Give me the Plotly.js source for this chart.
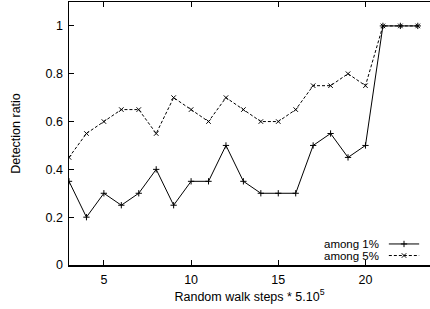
<!DOCTYPE html>
<html><head><meta charset="utf-8">
<script src="https://cdn.plot.ly/plotly-3.0.1.min.js"></script>
<style>html,body{margin:0;padding:0;background:#fff}#chart{width:430px;height:309px}</style>
</head><body><div id="chart"></div>
<script>
const steps = [3,4,5,6,7,8,9,10,11,12,13,14,15,16,17,18,19,20,21,22,23];
const among1 = [0.35,0.2,0.3,0.25,0.3,0.4,0.25,0.35,0.35,0.5,0.35,0.3,0.3,0.3,0.5,0.55,0.45,0.5,1,1,1];
const among5 = [0.45,0.55,0.6,0.65,0.65,0.55,0.7,0.65,0.6,0.7,0.65,0.6,0.6,0.65,0.75,0.75,0.8,0.75,1,1,1];
const seriesNames = ["among 1%","among 5%"];
const xTicks = [5,10,15,20];
const yTicks = [0,0.2,0.4,0.6,0.8,1];
const yTickText = ["0","0.2","0.4","0.6","0.8","1"];

const font = {family:"Liberation Sans, Arial, sans-serif", size:12.5, color:"#000"};
const legFont = {family:"Liberation Sans, Arial, sans-serif", size:11.5, color:"#000"};
const dash = "3px,2px";
const traces = [
  {x:steps, y:among1, mode:"lines+markers", name:seriesNames[0],
   line:{color:"#000", width:1, dash:"solid"},
   marker:{symbol:"cross-thin", size:4.5, color:"#000", line:{color:"#000", width:1}}},
  {x:steps, y:among5, mode:"lines+markers", name:seriesNames[1],
   line:{color:"#000", width:1, dash:dash},
   marker:{symbol:"x-thin", size:4.5, color:"#000", line:{color:"#000", width:1}}},
  // legend samples (paper-like hidden overlay axes)
  {x:[0.886,0.970], y:[0.080,0.080], xaxis:"x2", yaxis:"y2", mode:"lines", line:{color:"#000", width:1}, hoverinfo:"skip"},
  {x:[0.928], y:[0.080], xaxis:"x2", yaxis:"y2", mode:"markers", marker:{symbol:"cross-thin", size:4.5, line:{color:"#000", width:1}}, hoverinfo:"skip"},
  {x:[0.886,0.970], y:[0.036,0.036], xaxis:"x2", yaxis:"y2", mode:"lines", line:{color:"#000", width:1, dash:dash}, hoverinfo:"skip"},
  {x:[0.928], y:[0.036], xaxis:"x2", yaxis:"y2", mode:"markers", marker:{symbol:"x-thin", size:4.5, line:{color:"#000", width:1}}, hoverinfo:"skip"}
];
const layout = {
  width:430, height:309, showlegend:false,
  margin:{l:69, r:0, t:2, b:44},
  paper_bgcolor:"#fff", plot_bgcolor:"#fff", font:font,
  xaxis:{range:[3,23.7], tickvals:xTicks, ticks:"inside", ticklen:5, tickwidth:1, tickcolor:"#000",
    showline:true, linecolor:"#000", linewidth:1.5, mirror:"ticks", showgrid:false, zeroline:false,
    ticklabelstandoff:2,
    tickfont:font, title:{text:"Random walk steps * 5.10<sup>5</sup>", font:font, standoff:6}},
  yaxis:{range:[0,1.1], tickvals:yTicks, ticktext:yTickText, ticks:"inside", ticklen:5, tickwidth:1, tickcolor:"#000",
    showline:true, linecolor:"#000", linewidth:1.5, mirror:false, showgrid:false, zeroline:false,
    ticklabelstandoff:2,
    tickfont:font, title:{text:"Detection ratio", font:font, standoff:22}},
  xaxis2:{overlaying:"x", range:[0,1], visible:false, fixedrange:true},
  yaxis2:{overlaying:"y", range:[0,1], visible:false, fixedrange:true},
  annotations:[
    {xref:"paper", yref:"paper", x:0.8615, y:0.080, xanchor:"right", yanchor:"middle", text:seriesNames[0], showarrow:false, font:legFont, borderpad:0},
    {xref:"paper", yref:"paper", x:0.8615, y:0.036, xanchor:"right", yanchor:"middle", text:seriesNames[1], showarrow:false, font:legFont, borderpad:0}
  ]
};
Plotly.newPlot("chart", traces, layout, {staticPlot:true});
</script></body></html>
